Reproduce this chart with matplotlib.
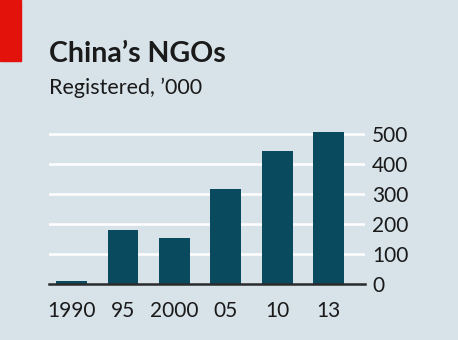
import matplotlib.pyplot as plt

# data
years = ['1990', '95', '2000', '05', '10', '13']
ngos = [11, 182, 154, 319, 444, 508]   # registered, '000
yticks = [0, 100, 200, 300, 400, 500]

bg = '#d7e2e9'
bar_col = '#0a4a5e'
txt = '#1a1a1a'

plt.rcParams['font.family'] = ['Lato', 'DejaVu Sans']

fig = plt.figure(figsize=(4.58, 3.4), dpi=100, facecolor=bg)
ax = fig.add_axes([0.107, 0.1647, 0.690, 0.4574])
ax.set_facecolor(bg)

x = list(range(len(years)))
ax.bar(x, ngos, width=0.6, color=bar_col, zorder=2)

# white gridlines behind the bars, dark zero line on top
for v in yticks[1:]:
    ax.axhline(v, color='white', lw=1.8, zorder=1)
ax.axhline(0, color='#2b2b2b', lw=1.8, zorder=3, clip_on=False)

ax.set_xlim(-0.44, 5.71)
ax.set_ylim(0, 520)

ax.yaxis.tick_right()
ax.set_yticks(yticks)
ax.set_yticklabels([str(v) for v in yticks])
ax.set_xticks(x)
ax.set_xticklabels(years)
ax.tick_params(axis='y', length=0, pad=5, labelsize=15, labelcolor=txt)
ax.tick_params(axis='x', length=0, pad=12, labelsize=15, labelcolor=txt)

for s in ax.spines.values():
    s.set_visible(False)

# red tag, title, subtitle
fig.patches.append(plt.Rectangle((0, 1 - 61 / 340), 21 / 458, 61 / 340,
                                 transform=fig.transFigure, color='#e3120b'))
fig.text(0.107, 1 - 62 / 340, 'China\u2019s NGOs', fontsize=20.5,
         fontweight='bold', color=txt, va='baseline')
fig.text(0.107, 1 - 94 / 340, 'Registered, \u2019000', fontsize=15.5,
         color=txt, va='baseline')

fig.savefig('out.png', dpi=100, facecolor=bg)
